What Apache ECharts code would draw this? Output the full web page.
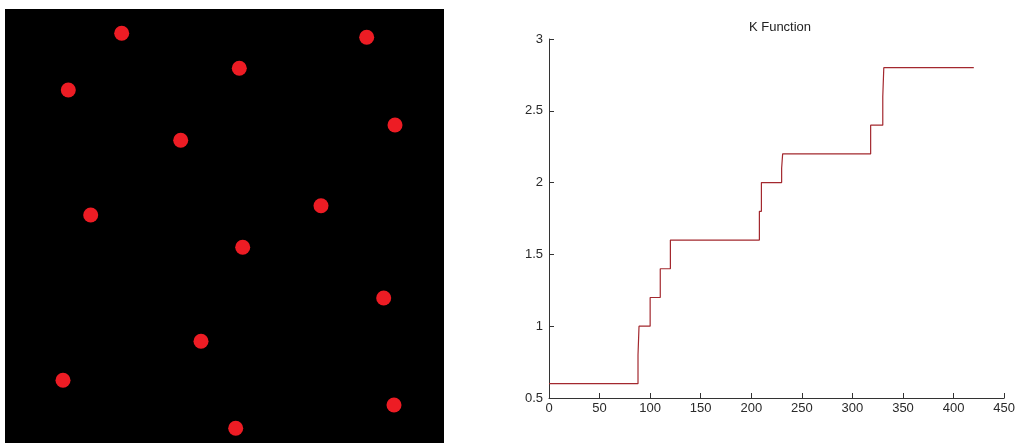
<!DOCTYPE html>
<html>
<head>
<meta charset="utf-8">
<script src="https://cdn.jsdelivr.net/npm/echarts@6/dist/echarts.min.js"></script>
<style>
  html, body { margin: 0; padding: 0; background: #fff; }
  #chart { width: 1018px; height: 443px; }
</style>
</head>
<body>
<div id="chart"></div>
<script>
// point pattern (image coords, y goes down)
const pointsX = [116.7, 361.7, 234.3, 63.3, 390, 175.7, 85.7, 316, 237.7, 378.7, 196, 58, 389, 230.7];
const pointsY = [24.3, 28.3, 59.3, 81, 116, 131.3, 206, 196.7, 238.3, 289, 332.3, 371.3, 396, 419.3];

// K function steps
const kR = [0, 88, 89, 100, 110, 120, 208, 210, 230, 231, 318, 330, 331, 420];
const kVal = [0.6, 0.8, 1.0, 1.2, 1.4, 1.6, 1.8, 2.0, 2.1, 2.2, 2.4, 2.6, 2.8, 2.8];

const xTicks = [0, 50, 100, 150, 200, 250, 300, 350, 400, 450];
const yTicks = [0.5, 1, 1.5, 2, 2.5, 3];

const chart = echarts.init(document.getElementById("chart"));

const axisColor = "#333";
const labelFont = { color: "#2a2a2a", fontSize: 13, fontFamily: "Liberation Sans Narrow, Liberation Sans, Arial, sans-serif" };

chart.setOption({
  animation: false,
  backgroundColor: "#fff",
  title: {
    text: "K Function",
    left: 775,
    top: 16,
    textAlign: "center",
    textStyle: { fontSize: 13, fontWeight: "normal", color: "#222", fontFamily: "Liberation Sans, Arial, sans-serif" },
  },
  grid: [
    // 点图
    { left: 5, top: 9, width: 439, height: 434, show: true, backgroundColor: "#000", borderWidth: 0 },
    // K 函数
    { left: 549, top: 39, width: 458, height: 359 },
  ],
  xAxis: [
    { gridIndex: 0, type: "value", min: 0, max: 439, show: false },
    {
      gridIndex: 1,
      type: "value",
      min: 0,
      max: 450,
      interval: 50,
      axisLine: { show: true, lineStyle: { color: axisColor } },
      axisTick: { show: true, inside: true, length: 5, lineStyle: { color: axisColor } },
      axisLabel: Object.assign({ margin: 4, formatter: (v) => (xTicks.includes(v) ? String(v) : "") }, labelFont),
      splitLine: { show: false },
    },
  ],
  yAxis: [
    { gridIndex: 0, type: "value", min: 0, max: 434, inverse: true, show: false },
    {
      gridIndex: 1,
      type: "value",
      min: 0.5,
      max: 3,
      interval: 0.5,
      axisLine: { show: true, lineStyle: { color: axisColor } },
      axisTick: { show: true, inside: true, length: 5, lineStyle: { color: axisColor } },
      axisLabel: Object.assign({ margin: 6, formatter: (v) => (yTicks.includes(v) ? String(v) : "") }, labelFont),
      splitLine: { show: false },
    },
  ],
  series: [
    {
      type: "scatter",
      xAxisIndex: 0,
      yAxisIndex: 0,
      symbolSize: 15,
      itemStyle: { color: "#ed1c24", opacity: 1 },
      data: pointsX.map((x, i) => [x, pointsY[i]]),
    },
    {
      type: "line",
      xAxisIndex: 1,
      yAxisIndex: 1,
      step: "end",
      showSymbol: false,
      lineStyle: { color: "#a3282e", width: 1.2 },
      data: kR.map((r, i) => [r, kVal[i]]),
    },
  ],
});
</script>
</body>
</html>
